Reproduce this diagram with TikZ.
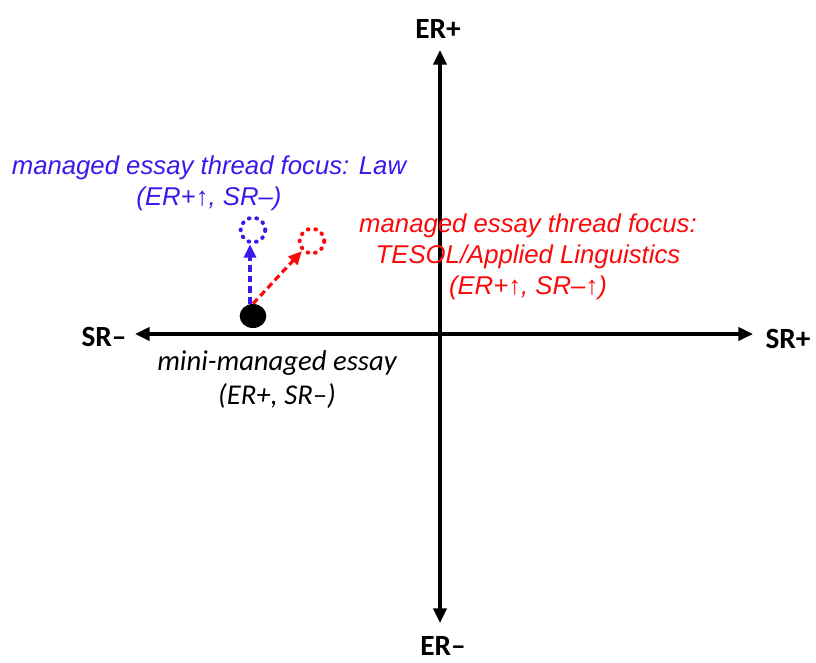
\documentclass[tikz,border=0pt]{standalone}
\usepackage{fontspec}
\newfontfamily\calibri{Carlito}
\newfontfamily\arial{Liberation Sans}
\usetikzlibrary{arrows.meta,shapes.geometric}
\definecolor{lawblue}{RGB}{60,25,235}
\definecolor{tesolred}{RGB}{250,10,10}
\tikzset{
	axislabel/.style={font=\calibri\bfseries\fontsize{22}{26}\selectfont},
	axisline/.style={line width=2.4pt,{Triangle[length=11pt,width=10pt]}-{Triangle[length=11pt,width=10pt]}},
	focuslabel/.style={align=center,font=\arial\itshape\fontsize{19.3}{23.2}\selectfont},
	shiftarrow/.style={line width=2.4pt,dash pattern=on 5pt off 3pt,-{Triangle[length=10pt,width=9pt]}},
	newpos/.style={circle,draw,line width=3pt,line cap=round,dash pattern=on 0.5pt off 5.2pt,minimum size=18.5pt,inner sep=0pt}
}
\begin{document}
\begin{tikzpicture}[x=0.75pt,y=-0.75pt]
	\useasboundingbox (0,0) rectangle (816,662);

	\coordinate (ertop) at (440,50); % ER+ end of axis
	\coordinate (erbot) at (440,623); % ER- end of axis
	\coordinate (srleft) at (135,334); % SR- end of axis
	\coordinate (srright) at (753,334); % SR+ end of axis

	\draw[axisline] (erbot) -- (ertop);
	\draw[axisline] (srleft) -- (srright);

	\node[axislabel] (erplus) at (438,29) {ER+};
	\node[axislabel] (erminus) at (443,646) {ER–};
	\node[axislabel] (srminus) at (104,337) {SR–};
	\node[axislabel] (srplus) at (788,339) {SR+};

	\node[ellipse,fill,minimum width=20pt,minimum height=18pt,inner sep=0pt] (dot) at (253,316) {}; % mini-managed essay
	\node[newpos,lawblue] (lawpos) at (253,230) {}; % law thread
	\node[newpos,tesolred] (tesolpos) at (312,241) {}; % TESOL thread

	\draw[shiftarrow,lawblue] (dot.north) ++(-3,0) -- (lawpos.south -| 250,0);
	\draw[shiftarrow,tesolred] (dot.north) -- (tesolpos.south west);

	\node[focuslabel,lawblue] (lawtext) at (209,183) {managed essay thread focus: Law\\(ER+↑, SR–)};
	\node[focuslabel,tesolred] (tesoltext) at (528,257) {managed essay thread focus:\\TESOL/Applied Linguistics\\(ER+↑, SR–↑)};
	\node[align=center,font=\calibri\itshape\fontsize{21.5}{25.5}\selectfont] (minitext) at (277,380) {mini-managed essay\\(ER+, SR–)};
\end{tikzpicture}
\end{document}
